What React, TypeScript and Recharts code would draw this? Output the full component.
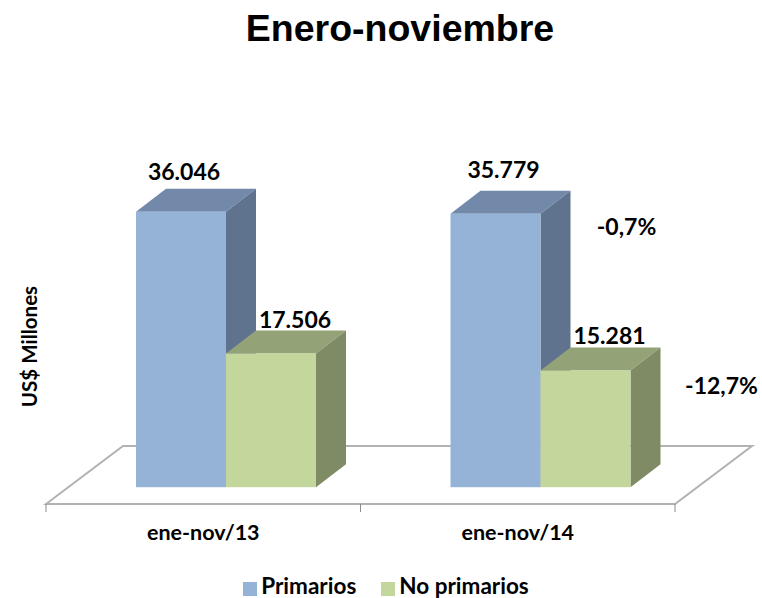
import React from "react";
import { BarChart, Bar, XAxis, YAxis, Legend, LabelList, ReferenceArea } from "recharts";

const categories = ["ene-nov/13", "ene-nov/14"];
const primarios = [36046, 35779];
const noPrimarios = [17506, 15281];
const variacionPrimarios = [null, "-0,7%"];
const variacionNoPrimarios = [null, "-12,7%"];

const data = categories.map((c, i) => ({
  name: c,
  primarios: primarios[i],
  noPrimarios: noPrimarios[i],
}));

const FONT = "Lato, sans-serif";
const SHIFT = 23;
const DX = 30;
const DY = 23;

const fmt = (v: number) => String(v).replace(/(\d)(\d{3})$/, "$1.$2");

const box = (front: string, top: string, side: string) => (p: any) => {
  const x = p.x + SHIFT;
  const { y, width: w, height: h } = p;
  return (
    <g>
      <polygon points={`${x},${y} ${x + DX},${y - DY} ${x + w + DX},${y - DY} ${x + w},${y}`} fill={top} />
      <polygon points={`${x + w},${y} ${x + w + DX},${y - DY} ${x + w + DX},${y + h - DY} ${x + w},${y + h}`} fill={side} />
      <rect x={x} y={y} width={w} height={h} fill={front} />
    </g>
  );
};

const floor = (p: any) => {
  const { x, y, width: w, height: h } = p;
  const b = y + h;
  return (
    <g stroke="#b2b2b2" fill="#fff">
      <polygon points={`${x},${b} ${x + 77},${y} ${x + w + 77},${y} ${x + w},${b}`} strokeWidth={2} />
      {[0, 0.5, 1].map((f) => (
        <line key={f} x1={x + w * f} x2={x + w * f} y1={b} y2={b + 8} strokeWidth={1} stroke="#8c8c8c" />
      ))}
    </g>
  );
};

const valueLabel = (offsets: number[][], texts?: (string | null)[]) => (p: any) => {
  const text = texts ? texts[p.index] : fmt(p.value);
  if (!text) return null;
  const [ox, oy] = offsets[p.index];
  return (
    <text
      x={p.x + SHIFT + p.width / 2 + ox}
      y={p.y + oy}
      textAnchor="middle"
      dominantBaseline="central"
      fontFamily={FONT}
      fontWeight={700}
      fontSize={23}
      fill="#000"
    >
      {text}
    </text>
  );
};

const sortLegend = (item: any) => (item.value === "Primarios" ? 0 : 1);

export default function App() {
  return (
    <div style={{ position: "absolute", left: 0, top: 0, width: 762, height: 598, background: "#fff", overflow: "hidden" }}>
      <div
        style={{
          position: "absolute",
          left: 0,
          top: 6,
          width: 800,
          textAlign: "center",
          fontFamily: "'Liberation Sans', Arial, sans-serif",
          fontWeight: 700,
          fontSize: 37.5,
          lineHeight: "44px",
          color: "#000",
        }}
      >
        Enero-noviembre
      </div>
      <BarChart
        width={762}
        height={598}
        data={data}
        barSize={90}
        barGap={0}
        margin={{ top: 151, right: 87, bottom: 0, left: 0 }}
      >
        <ReferenceArea y1={-2200} y2={5390} shape={floor} ifOverflow="visible" />
        <XAxis
          dataKey="name"
          height={70}
          axisLine={false}
          tickLine={false}
          tickMargin={15}
          tick={{ fontFamily: FONT, fontWeight: 700, fontSize: 21.5, fill: "#000" }}
        />
        <YAxis
          width={46}
          domain={[-2200, 44000]}
          tick={false}
          axisLine={false}
          tickLine={false}
          label={{
            value: "US$ Millones",
            angle: -90,
            position: "insideLeft",
            dx: 25,
            dy: 19,
            style: { fontFamily: FONT, fontWeight: 700, fontSize: 20.5, fill: "#000", textAnchor: "middle" },
          }}
        />
        <Legend
          verticalAlign="bottom"
          height={24}
          iconType="square"
          iconSize={14}
          itemSorter={sortLegend}
          wrapperStyle={{ left: 61, bottom: 3 }}
          formatter={(v: string) => (
            <span style={{ color: "#000", fontFamily: FONT, fontWeight: 700, fontSize: 22.5, marginRight: 15, position: "relative", top: 1 }}>{v}</span>
          )}
        />
        <Bar dataKey="primarios" name="Primarios" fill="#95B3D7" isAnimationActive={false} shape={box("#95B3D7", "#7389AA", "#5F738F")}>
          <LabelList content={valueLabel([[3, -41], [8, -45]])} dataKey="primarios" />
          <LabelList content={valueLabel([[0, 0], [131, 12]], variacionPrimarios)} dataKey="primarios" />
        </Bar>
        <Bar dataKey="noPrimarios" name="No primarios" fill="#C3D69B" isAnimationActive={false} shape={box("#C3D69B", "#93A277", "#7E8B65")}>
          <LabelList content={valueLabel([[24, -34], [24, -35]])} dataKey="noPrimarios" />
          <LabelList content={valueLabel([[0, 0], [136, 15]], variacionNoPrimarios)} dataKey="noPrimarios" />
        </Bar>
      </BarChart>
    </div>
  );
}
